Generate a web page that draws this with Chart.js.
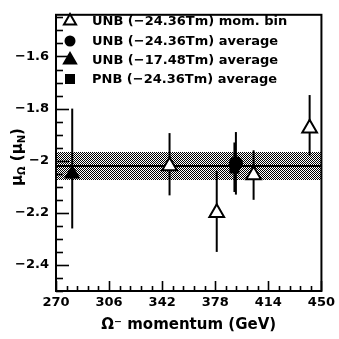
<!DOCTYPE html>
<html><head><meta charset="utf-8">
<script src="https://cdn.jsdelivr.net/npm/chart.js@4/dist/chart.umd.min.js"></script>
<style>html,body{margin:0;padding:0;background:#fff}canvas{display:block}</style>
</head><body>
<canvas id="c" width="339" height="339"></canvas>
<script>
// ---- data ----
const legendLabels = ["UNB (\u221224.36Tm) mom. bin", "UNB (\u221224.36Tm) average", "UNB (\u221217.48Tm) average", "PNB (\u221224.36Tm) average"];
// UNB -24.36Tm momentum bins (open triangles)
const binMomentum = [347, 379, 404, 442];
const binMu       = [-2.02, -2.20, -2.055, -1.875];
const binMuHigh   = [-1.894, -2.04, -1.96, -1.748];
const binMuLow    = [-2.133, -2.35, -2.15, -1.98];
// UNB -24.36Tm average (filled circle)
const unb24Momentum = [392];
const unb24Mu       = [-2.01];
const unb24MuHigh   = [-1.89];
const unb24MuLow    = [-2.13];
// UNB -17.48Tm average (filled triangle)
const unb17Momentum = [281];
const unb17Mu       = [-2.05];
const unb17MuHigh   = [-1.80];
const unb17MuLow    = [-2.26];
// PNB -24.36Tm average (filled square)
const pnbMomentum = [391];
const pnbMu       = [-2.03];
const pnbMuHigh   = [-1.93];
const pnbMuLow    = [-2.12];
// combined average and band
const avgMu = -2.02;
const bandHigh = -1.965;
const bandLow  = -2.075;
// axes
const xTicks = [270, 306, 342, 378, 414, 450];
const yTicks = [-2.4, -2.2, -2.0, -1.8, -1.6];
const xMin = 270, xMax = 450, yMin = -2.5, yMax = -1.44;
const xMinorStep = 7.2, yMinorStep = 0.05;

const FONT = "'DejaVu Sans'";
const toPts = (xs, ys) => xs.map((x, i) => ({x: x, y: ys[i]}));

const errSets = [
  [binMomentum, binMuHigh, binMuLow],
  [unb24Momentum, unb24MuHigh, unb24MuLow],
  [unb17Momentum, unb17MuHigh, unb17MuLow],
  [pnbMomentum, pnbMuHigh, pnbMuLow]
];

function makePattern(ctx) {
  const t = document.createElement('canvas');
  t.width = 2; t.height = 2;
  const g = t.getContext('2d');
  g.fillStyle = '#fff'; g.fillRect(0, 0, 2, 2);
  g.fillStyle = '#000';
  g.fillRect(0, 0, 1, 1); g.fillRect(1, 1, 1, 1);
  return ctx.createPattern(t, 'repeat');
}

const decor = {
  id: 'decor',
  beforeDatasetsDraw(chart) {
    const {ctx, chartArea: a, scales: {x, y}} = chart;
    ctx.save();
    // band
    ctx.fillStyle = makePattern(ctx);
    const yb1 = Math.round(y.getPixelForValue(bandHigh)), yb2 = Math.round(y.getPixelForValue(bandLow));
    ctx.fillRect(Math.round(a.left), yb1, Math.round(a.right - a.left), yb2 - yb1);
    // average line
    ctx.strokeStyle = '#000'; ctx.lineWidth = 2;
    ctx.beginPath();
    const ya = y.getPixelForValue(avgMu);
    ctx.moveTo(a.left, ya); ctx.lineTo(a.right, ya); ctx.stroke();
    // error bars
    errSets.forEach(([xs, hi, lo]) => {
      xs.forEach((xv, i) => {
        const px = x.getPixelForValue(xv);
        ctx.beginPath();
        ctx.moveTo(px, y.getPixelForValue(hi[i]));
        ctx.lineTo(px, y.getPixelForValue(lo[i]));
        ctx.stroke();
      });
    });
    ctx.restore();
  },
  afterDraw(chart) {
    const {ctx, chartArea: a, scales: {x, y}} = chart;
    ctx.save();
    ctx.strokeStyle = '#000'; ctx.fillStyle = '#000';
    // frame
    ctx.lineWidth = 2;
    ctx.strokeRect(a.left, a.top, a.right - a.left, a.bottom - a.top);
    // inward ticks
    ctx.lineWidth = 1.6;
    for (let k = 0; ; k++) {
      const v = yMin + k * yMinorStep;
      if (v > yMax + 1e-9) break;
      const py = Math.round(y.getPixelForValue(v)) + 0.5;
      const major = yTicks.some(t => Math.abs(t - v) < 1e-6);
      ctx.beginPath(); ctx.moveTo(a.left, py); ctx.lineTo(a.left + (major ? 13 : 7), py); ctx.stroke();
    }
    for (let k = 0; ; k++) {
      const v = xMin + k * xMinorStep;
      if (v > xMax + 1e-9) break;
      const px = Math.round(x.getPixelForValue(v)) + 0.5;
      const major = xTicks.some(t => Math.abs(t - v) < 1e-6);
      ctx.beginPath(); ctx.moveTo(px, a.bottom); ctx.lineTo(px, a.bottom - (major ? 10 : 5)); ctx.stroke();
    }
    // legend
    ctx.font = "bold 13px " + FONT;
    ctx.textBaseline = 'middle';
    const lx = 70, tx = 92, ly = [21, 41, 60, 79];
    legendLabels.forEach((lab, i) => {
      const cy = ly[i];
      ctx.lineWidth = 2;
      ctx.beginPath();
      if (i === 0 || i === 2) {
        const r = 7;
        ctx.moveTo(lx, cy - r);
        ctx.lineTo(lx + r * 0.866, cy + r / 2);
        ctx.lineTo(lx - r * 0.866, cy + r / 2);
        ctx.closePath();
        if (i === 0) { ctx.fillStyle = '#fff'; ctx.fill(); ctx.stroke(); }
        else { ctx.fillStyle = '#000'; ctx.fill(); ctx.stroke(); }
      } else if (i === 1) {
        ctx.arc(lx, cy, 5.5, 0, Math.PI * 2);
        ctx.fillStyle = '#000'; ctx.fill();
      } else {
        ctx.fillStyle = '#000';
        ctx.fillRect(lx - 5, cy - 5, 10, 10);
      }
      ctx.fillStyle = '#000';
      ctx.fillText(lab, tx, cy + 1);
    });
    // y axis title  mu_Omega (mu_N)
    ctx.translate(17, 157);
    ctx.rotate(-Math.PI / 2);
    ctx.textBaseline = 'alphabetic';
    const big = "bold 15px " + FONT, small = "bold 10px " + FONT;
    const parts = [["\u03bc", big, 0], ["\u03a9", small, 3], [" (\u03bc", big, 0], ["N", small, 3], [")", big, 0]];
    let w = 0;
    parts.forEach(p => { ctx.font = p[1]; w += ctx.measureText(p[0]).width; });
    let cx = -w / 2;
    parts.forEach(p => { ctx.font = p[1]; ctx.fillText(p[0], cx, 5 + p[2]); cx += ctx.measureText(p[0]).width; });
    ctx.restore();
  }
};

new Chart(document.getElementById('c'), {
  type: 'scatter',
  data: {
    datasets: [
      {label: legendLabels[1], data: toPts(unb24Momentum, unb24Mu), pointStyle: 'circle', pointRadius: 7, backgroundColor: '#000', borderColor: '#000', borderWidth: 0},
      {label: legendLabels[3], data: toPts(pnbMomentum, pnbMu), pointStyle: 'rect', pointRadius: 7, backgroundColor: '#000', borderColor: '#000', borderWidth: 0},
      {label: legendLabels[0], data: toPts(binMomentum, binMu), pointStyle: 'triangle', pointRadius: 8.5, backgroundColor: '#fff', borderColor: '#000', borderWidth: 2},
      {label: legendLabels[2], data: toPts(unb17Momentum, unb17Mu), pointStyle: 'triangle', pointRadius: 8.5, backgroundColor: '#000', borderColor: '#000', borderWidth: 1}
    ]
  },
  options: {
    responsive: false,
    devicePixelRatio: 1,
    animation: false,
    events: [],
    layout: {padding: {top: 7, right: 15, left: 0, bottom: 0}},
    plugins: {legend: {display: false}, tooltip: {enabled: false}},
    scales: {
      x: {
        type: 'linear', min: xMin, max: xMax,
        afterBuildTicks: s => { s.ticks = xTicks.map(v => ({value: v})); },
        afterFit: s => { s.height = 48; },
        grid: {display: false, drawTicks: false},
        border: {display: false},
        ticks: {color: '#000', padding: 4, maxRotation: 0, autoSkip: false, font: {family: FONT, size: 13, weight: 'bold'}, callback: v => String(v)},
        title: {display: true, text: '\u03a9\u207b momentum (GeV)', color: '#000', font: {family: FONT, size: 15, weight: 'bold'}, padding: {top: 4, bottom: 5}}
      },
      y: {
        type: 'linear', min: yMin, max: yMax,
        afterBuildTicks: s => { s.ticks = yTicks.map(v => ({value: v})); },
        afterFit: s => { s.width = 56; },
        grid: {display: false, drawTicks: false},
        border: {display: false},
        ticks: {color: '#000', padding: 7, autoSkip: false, font: {family: FONT, size: 13, weight: 'bold'},
          callback: v => '\u2212' + String(Math.round(Math.abs(v) * 10) / 10)}
      }
    }
  },
  plugins: [decor]
});
</script>
</body></html>
